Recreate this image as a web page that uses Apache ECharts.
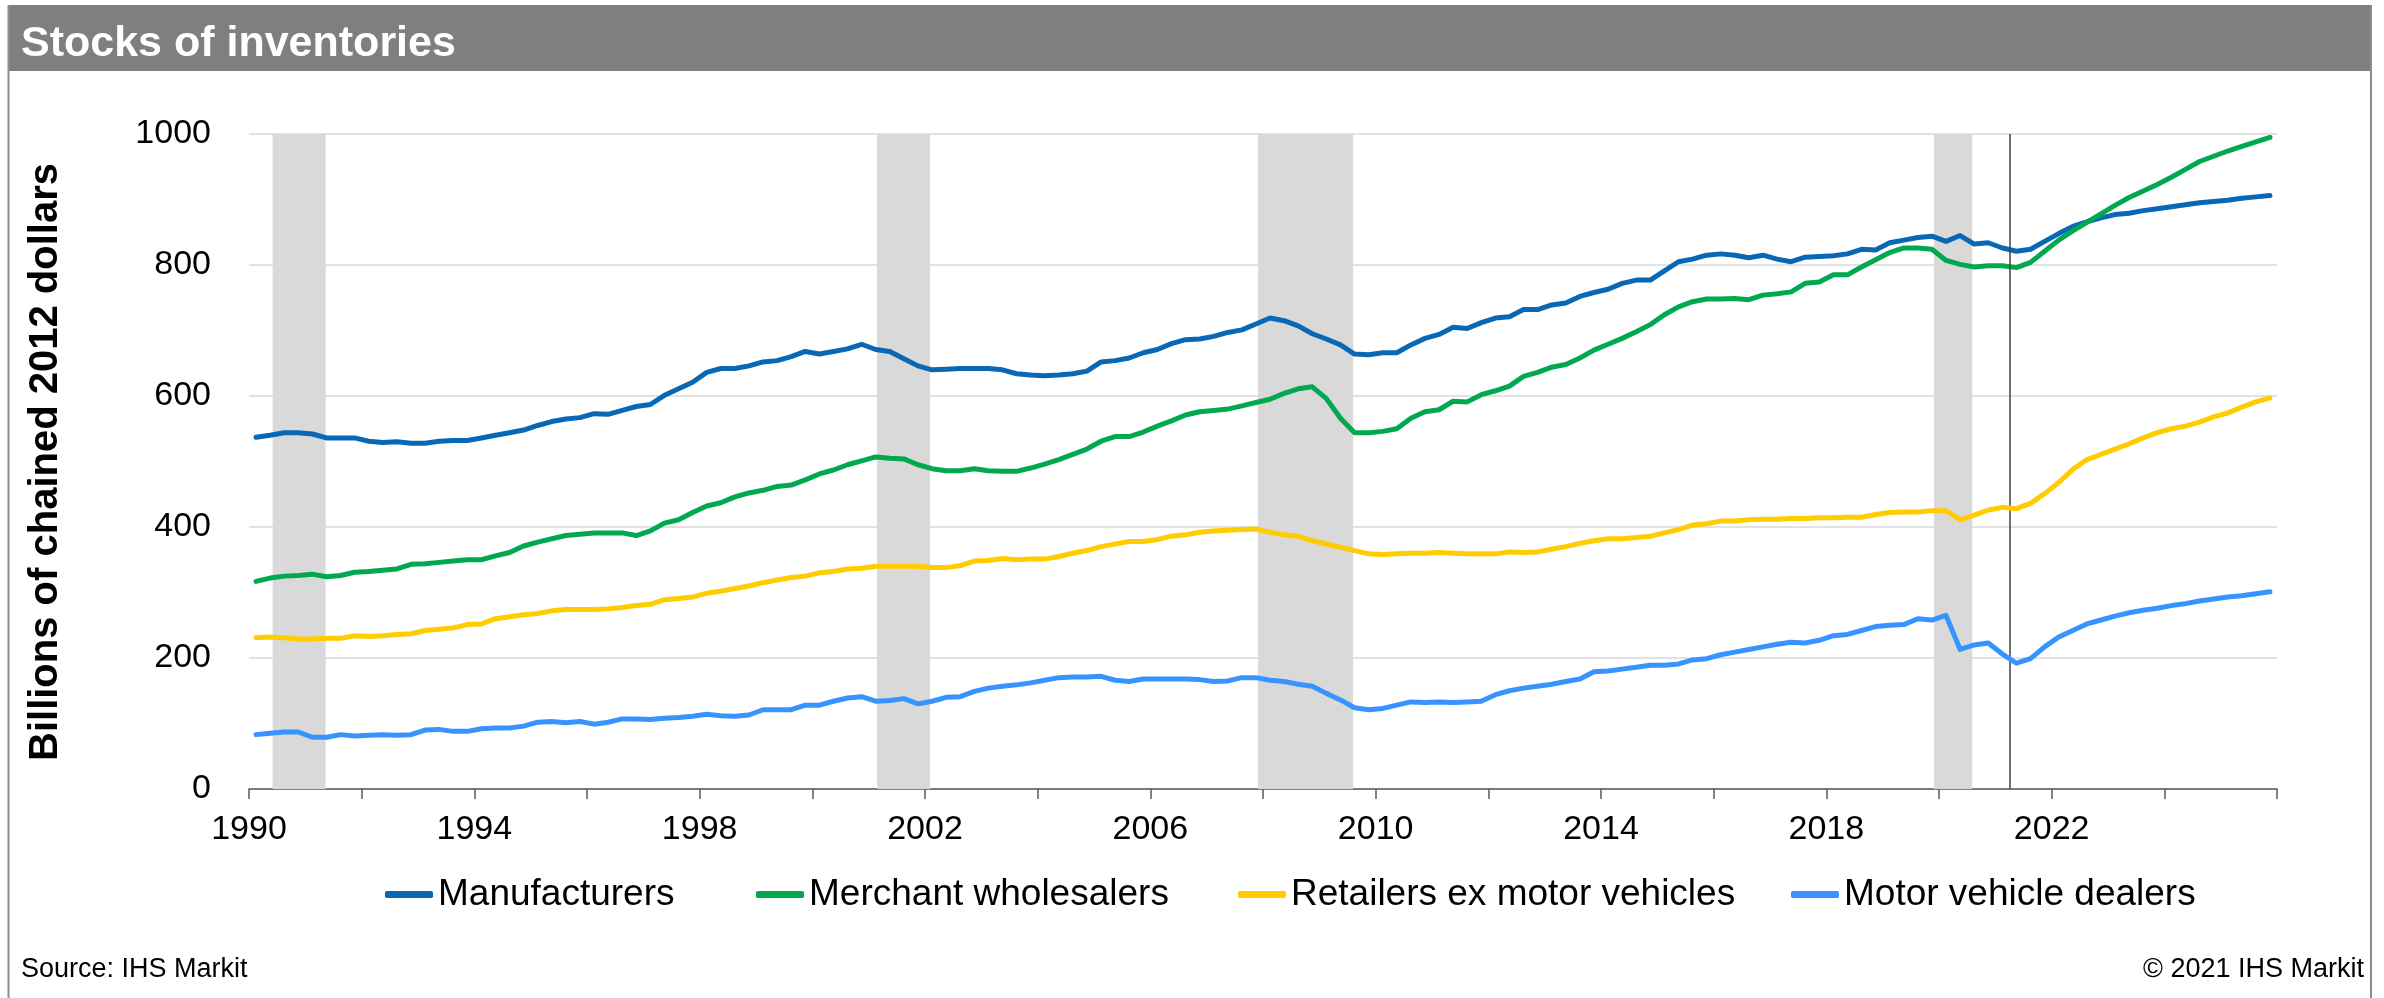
<!DOCTYPE html>
<html>
<head>
<meta charset="utf-8">
<script src="https://cdn.jsdelivr.net/npm/echarts@6/dist/echarts.min.js"></script>
<style>
html,body{margin:0;padding:0;background:#fff;}
#chart{width:2384px;height:998px;}
</style>
</head>
<body>
<div id="chart"></div>
<script>
// Quarterly data, 1990Q1 .. 2025Q4 (billions of chained 2012 dollars)
const startYear = 1990;
const seriesNames = ['Manufacturers', 'Merchant wholesalers', 'Retailers ex motor vehicles', 'Motor vehicle dealers'];

const manufacturers = [
  537,540,544,544,542,536,536,536,531,529,530,528,528,531,532,532,536,540,544,548,555,561,565,567,573,572,578,584,587,601,611,621,636,642,642,646,652,
  654,660,668,664,668,672,679,671,668,657,646,640,641,642,642,642,640,634,632,631,632,634,638,652,654,658,666,671,680,686,687,691,697,701,710,
  719,715,707,695,687,678,664,663,666,666,678,688,694,705,703,712,719,721,732,732,739,742,752,758,763,772,777,777,791,805,809,815,817,815,811,815,
  809,805,812,813,814,817,824,823,834,838,842,844,836,845,832,834,826,821,824,836,848,859,866,872,877,879,883,886,889,892,895,897,899,902,904,906
];
const wholesalers = [
  317,322,325,326,328,324,326,331,332,334,336,343,344,346,348,350,350,356,361,371,377,382,387,389,391,391,391,387,394,406,411,422,432,437,446,452,456,
  462,464,472,481,487,495,501,507,505,504,495,489,486,486,489,486,485,485,490,496,503,511,519,531,538,538,545,554,562,571,576,578,580,585,590,
  595,604,611,614,596,566,544,544,546,550,566,576,579,592,591,602,608,615,630,636,644,648,658,670,679,688,698,709,724,736,744,748,748,749,747,754,
  756,759,772,774,785,785,797,808,819,826,826,824,807,801,797,799,799,796,804,821,838,852,865,878,891,903,913,923,934,946,958,966,974,981,988,995
];
const retailers = [
  231,232,231,229,229,230,230,234,233,234,236,237,242,244,246,251,252,260,263,266,268,272,274,274,274,275,277,280,282,289,291,293,299,302,306,310,315,
  319,323,325,330,332,336,337,340,340,340,340,338,338,341,348,349,352,350,351,351,355,360,364,370,374,378,378,381,386,388,392,394,395,396,397,
  392,388,386,379,374,369,364,359,358,359,360,360,361,360,359,359,359,362,361,362,366,370,375,379,382,382,384,386,391,396,403,405,409,409,411,412,
  412,413,413,414,414,415,415,419,422,423,423,425,425,411,418,426,430,428,436,451,468,488,503,511,519,527,536,544,550,554,560,568,574,583,591,597
];
const dealers = [
  83,85,87,87,79,79,83,81,82,83,82,83,90,91,88,88,92,93,93,96,102,103,101,103,99,102,107,107,106,108,109,111,114,112,111,113,121,
  121,121,128,128,134,139,141,134,135,138,130,134,140,141,149,154,157,159,162,166,170,171,171,172,166,164,168,168,168,168,167,164,165,170,170,
  166,164,160,157,146,136,124,121,123,128,133,132,133,132,133,134,144,150,154,157,160,164,168,179,180,183,186,189,189,191,197,199,205,209,213,217,
  221,224,223,227,234,236,242,248,250,251,260,258,265,213,220,223,206,192,199,217,232,242,252,258,264,269,273,276,280,283,287,290,293,295,298,301
];
// Recession periods (decimal years) and forecast start
const recessions = [[1990.42, 1991.36], [2001.15, 2002.09], [2007.91, 2009.60], [2019.91, 2020.59]];
const forecastStart = 2021.25;
const yTicks = [0, 200, 400, 600, 800, 1000];

const colors = ['#0868b6', '#00a94f', '#ffcc00', '#3794ff'];
const FONT = '"Liberation Sans", Arial, sans-serif';

function toPairs(arr) {
  return arr.map((v, i) => [startYear + (i + 0.5) / 4, v]);
}
const allData = [manufacturers, wholesalers, retailers, dealers];

const chart = echarts.init(document.getElementById('chart'), null, {renderer: 'canvas'});

const series = [{
  name: 'shading',
  type: 'line',
  data: [],
  silent: true,
  z: 1,
  markArea: {
    silent: true,
    itemStyle: {color: '#d9d9d9'},
    data: recessions.map(r => [{xAxis: r[0], yAxis: 0}, {xAxis: r[1], yAxis: 1000}])
  },
  markLine: {
    silent: true,
    symbol: ['none', 'none'],
    label: {show: false},
    lineStyle: {color: '#404040', width: 1.5, type: 'solid'},
    data: [{xAxis: forecastStart}]
  }
}];
allData.forEach((d, k) => {
  series.push({
    name: seriesNames[k],
    type: 'line',
    data: toPairs(d),
    showSymbol: false,
    symbol: 'none',
    z: 3 + k,
    lineStyle: {color: colors[k], width: 5, cap: 'round', join: 'round'},
    itemStyle: {color: colors[k]}
  });
});

const legendLefts = [385, 756, 1238, 1791];
const legends = seriesNames.map((n, k) => ({
  data: [n],
  left: legendLefts[k],
  top: 876,
  padding: 0,
  icon: 'roundRect',
  itemWidth: 48,
  itemHeight: 7,
  selectedMode: false,
  textStyle: {fontSize: 37, color: '#000', fontFamily: FONT, padding: [0, 0, 0, 0]}
}));

chart.setOption({
  animation: false,
  backgroundColor: '#fff',
  grid: {left: 249, right: 107, top: 134, bottom: 209, containLabel: false},
  legend: legends,
  xAxis: {
    type: 'value',
    min: 1990, max: 2026, interval: 2,
    axisLine: {show: true, lineStyle: {color: '#595959', width: 1.5}},
    axisTick: {show: true, length: 10, lineStyle: {color: '#595959', width: 1.5}},
    splitLine: {show: false},
    axisLabel: {
      margin: 24,
      fontSize: 34, color: '#000', fontFamily: FONT,
      formatter: v => ((v - 1990) % 4 === 0 && v < 2026) ? String(v) : ''
    }
  },
  yAxis: {
    type: 'value',
    min: 0, max: 1000, interval: 200,
    axisLine: {show: false},
    axisTick: {show: false},
    splitLine: {show: true, lineStyle: {color: '#d9d9d9', width: 1.5}},
    axisLabel: {margin: 38, fontSize: 34, color: '#000', fontFamily: FONT,
      formatter: v => yTicks.includes(v) ? String(v) : ''}
  },
  graphic: [
    {type: 'rect', z: -10, shape: {x: 8, y: 5, width: 2363, height: 66}, style: {fill: '#7f7f7f'}},
    {type: 'line', z: 100, shape: {x1: 8.5, y1: 5, x2: 8.5, y2: 998}, style: {stroke: '#8c8c8c', lineWidth: 2}},
    {type: 'line', z: 100, shape: {x1: 2371, y1: 5, x2: 2371, y2: 998}, style: {stroke: '#8c8c8c', lineWidth: 2}},
    {type: 'text', z: 100, x: 21, y: 44, style: {text: 'Stocks of inventories', fill: '#fff', fontSize: 43, fontWeight: 'bold', fontFamily: FONT, textAlign: 'left', textVerticalAlign: 'middle'}},
    {type: 'text', z: 100, x: 46, y: 462, rotation: Math.PI / 2, style: {text: 'Billions of chained 2012 dollars', fill: '#000', fontSize: 40, fontWeight: 'bold', fontFamily: FONT, textAlign: 'center', textVerticalAlign: 'middle'}},
    {type: 'text', z: 100, x: 21, y: 970, style: {text: 'Source: IHS Markit', fill: '#000', fontSize: 27, fontFamily: FONT, textAlign: 'left', textVerticalAlign: 'middle'}},
    {type: 'text', z: 100, x: 2364, y: 970, style: {text: '© 2021 IHS Markit', fill: '#000', fontSize: 27, fontFamily: FONT, textAlign: 'right', textVerticalAlign: 'middle'}}
  ],
  series: series
});
</script>
</body>
</html>
